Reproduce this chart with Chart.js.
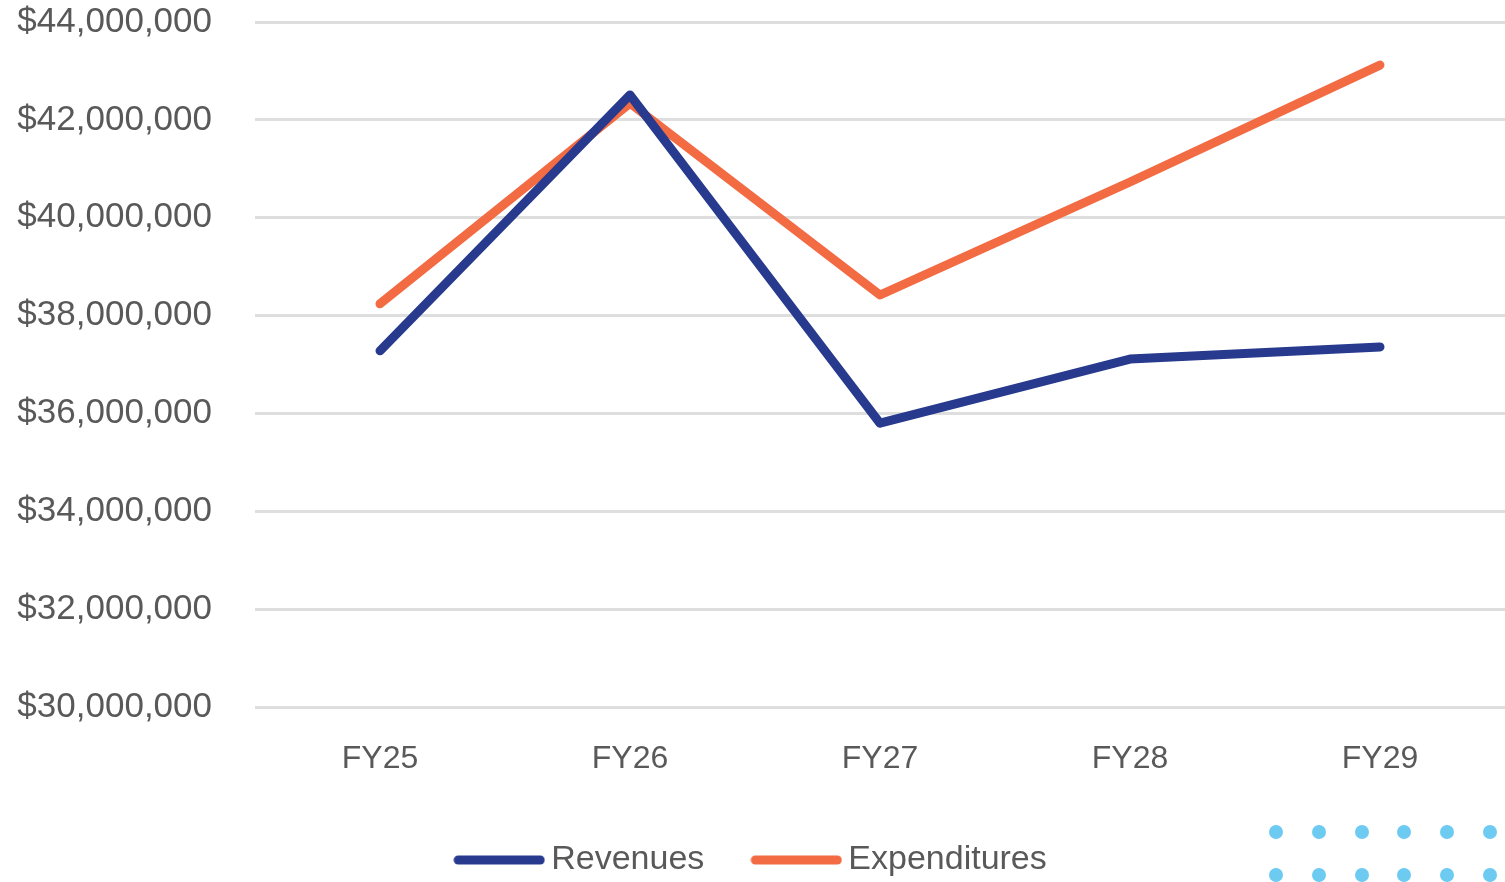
<!DOCTYPE html>
<html>
<head>
<meta charset="utf-8">
<script src="https://cdn.jsdelivr.net/npm/chart.js@4.4.1/dist/chart.umd.min.js"></script>
<style>
  html, body { margin: 0; padding: 0; background: #ffffff; }
  #wrap { position: relative; width: 1505px; height: 882px; }
  #c { display: block; }
  .dots { position: absolute; left: 1269px; top: 825px; width: 236px; height: 57px; }
  .dot { position: absolute; width: 14px; height: 14px; border-radius: 50%; background: #6DCBF2; }
</style>
</head>
<body>
<div id="wrap">
  <canvas id="c" width="1505" height="882"></canvas>
  <div class="dots" id="dots"></div>
</div>
<script>
const categories = ["FY25", "FY26", "FY27", "FY28", "FY29"];
const revenues = [37280000, 42510000, 35800000, 37110000, 37360000];
const expenditures = [38240000, 42340000, 38420000, 40730000, 43120000];
const yMin = 30000000;
const yMax = 44000000;
const yStep = 2000000;

// decorative dot grid (slide ornament)
(function () {
  const d = document.getElementById('dots');
  for (let r = 0; r < 2; r++) {
    for (let c = 0; c < 6; c++) {
      const e = document.createElement('div');
      e.className = 'dot';
      e.style.left = (c * 42.8) + 'px';
      e.style.top = (r * 43) + 'px';
      d.appendChild(e);
    }
  }
})();

const FONT = "'Liberation Sans', Arial, sans-serif";
const TXT = '#595959';
const COLORS = ['#283A8E', '#F26B43'];
const LEGEND_HEIGHT = 96;
const XAXIS_HEIGHT = 79;
const Y_TOP_PAD = 22;

// legend swatch: a thick rounded line segment
function swatch(color) {
  const cv = document.createElement('canvas');
  cv.width = 92; cv.height = 12;
  const g = cv.getContext('2d');
  g.strokeStyle = color;
  g.lineWidth = 9;
  g.lineCap = 'round';
  g.beginPath();
  g.moveTo(5, 6); g.lineTo(87, 6);
  g.stroke();
  return cv;
}

// keep the legend box compact while allowing wide spacing between items
const legendFitPatch = {
  id: 'legendFitPatch',
  beforeLayout(chart) {
    const lg = chart.legend;
    if (lg && !lg._patched) {
      const orig = lg.fit.bind(lg);
      lg.fit = function () {
        orig();
        this.height = LEGEND_HEIGHT;
      };
      lg._patched = true;
    }
  }
};

new Chart(document.getElementById('c'), {
  type: 'line',
  data: {
    labels: categories,
    datasets: [
      {
        label: 'Revenues',
        data: revenues,
        borderColor: COLORS[0],
        backgroundColor: COLORS[0],
        borderWidth: 9,
        borderCapStyle: 'round',
        borderJoinStyle: 'round',
        pointRadius: 0,
        tension: 0
      },
      {
        label: 'Expenditures',
        data: expenditures,
        borderColor: COLORS[1],
        backgroundColor: COLORS[1],
        borderWidth: 9,
        borderCapStyle: 'round',
        borderJoinStyle: 'round',
        pointRadius: 0,
        tension: 0
      }
    ]
  },
  plugins: [legendFitPatch],
  options: {
    responsive: false,
    animation: false,
    layout: { padding: { left: 6, right: 0, top: 0, bottom: 0 } },
    plugins: {
      tooltip: { enabled: false },
      legend: {
        position: 'bottom',
        labels: {
          color: TXT,
          font: { family: FONT, size: 34 },
          usePointStyle: true,
          pointStyleWidth: 70,
          boxHeight: 12,
          padding: 57,
          generateLabels(chart) {
            return chart.data.datasets.map((ds, i) => ({
              text: ds.label,
              fillStyle: ds.borderColor,
              strokeStyle: ds.borderColor,
              lineWidth: 0,
              pointStyle: swatch(ds.borderColor),
              fontColor: TXT,
              datasetIndex: i,
              hidden: false
            }));
          }
        }
      }
    },
    scales: {
      x: {
        offset: true,
        grid: { display: false, drawTicks: false },
        border: { display: false },
        ticks: { color: TXT, font: { family: FONT, size: 32 }, padding: 33 },
        afterFit(scale) { scale.height = XAXIS_HEIGHT; }
      },
      y: {
        min: yMin,
        max: yMax,
        grid: { color: '#dedede', lineWidth: 3, drawTicks: false },
        border: { display: false },
        ticks: {
          stepSize: yStep,
          color: TXT,
          font: { family: FONT, size: 35 },
          padding: 43,
          callback: v => '$' + Number(v).toLocaleString('en-US')
        },
        afterFit(scale) {
          scale.width = 249;
          scale.paddingTop = Y_TOP_PAD;
          scale.paddingBottom = Y_TOP_PAD;
        }
      }
    }
  }
});
</script>
</body>
</html>
